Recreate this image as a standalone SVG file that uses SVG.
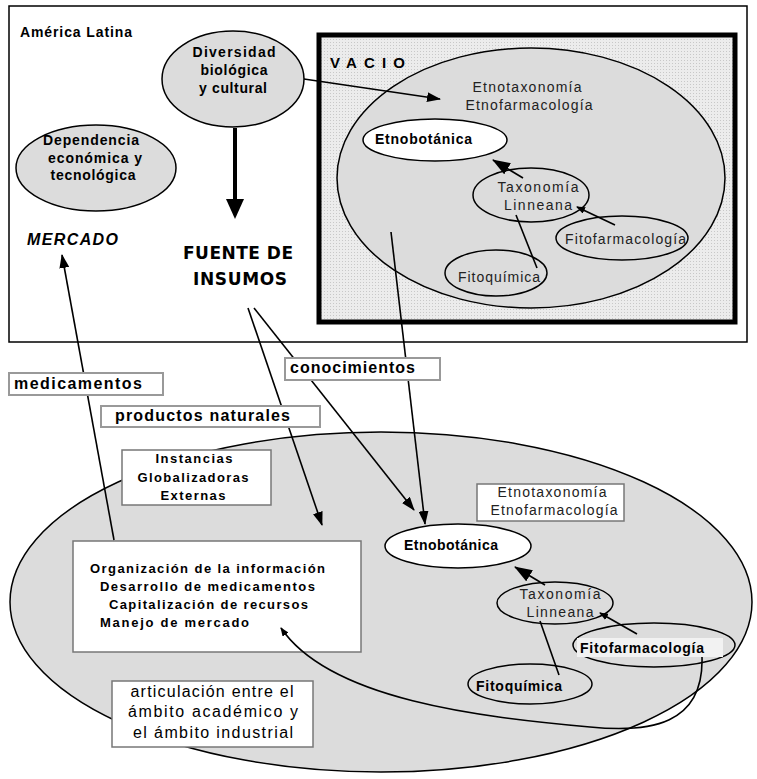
<svg xmlns="http://www.w3.org/2000/svg" width="757" height="779" viewBox="0 0 757 779">
<defs>
<style>
.t{font-family:"Liberation Sans",Arial,sans-serif;fill:#000}
.b{font-weight:bold}
.g{fill:#222}
.ln{stroke:#000;stroke-width:1.6;fill:none}
.lbl{fill:#fff;stroke:#999;stroke-width:2}
.bx{fill:#fff;stroke:#777;stroke-width:1.5}
.el{fill:#dcdcdc;stroke:#000;stroke-width:1.5}
.ew{fill:#fff;stroke:#000;stroke-width:1.5}
.comic{font-family:"DejaVu Sans","Liberation Sans",sans-serif;font-weight:bold}
</style>
<pattern id="dots" width="3" height="3" patternUnits="userSpaceOnUse">
<rect width="3" height="3" fill="#ececec"/>
<rect width="1" height="1" fill="#c8c8c8"/>
</pattern>
<marker id="ah" markerWidth="14" markerHeight="10" refX="13" refY="5" orient="auto" markerUnits="userSpaceOnUse"><path d="M0,0 L14,5 L0,10 z" fill="#000"/></marker>
<marker id="ahb" markerWidth="18" markerHeight="13" refX="17" refY="6.5" orient="auto" markerUnits="userSpaceOnUse"><path d="M0,0 L18,6.5 L0,13 z" fill="#000"/></marker>
<marker id="ahs" markerWidth="9" markerHeight="7" refX="8" refY="3.5" orient="auto" markerUnits="userSpaceOnUse"><path d="M0,0 L9,3.5 L0,7 z" fill="#000"/></marker>
</defs>
<rect width="757" height="779" fill="#fff"/>

<!-- upper frame -->
<g id="america-latina">
<rect x="9" y="6" width="738" height="336" fill="#fff" stroke="#000" stroke-width="1.5"/>
<text class="t b" x="20" y="37" font-size="14" textLength="112">América Latina</text>
</g>

<g id="vacio">
<rect x="319" y="35" width="416" height="287" fill="url(#dots)" stroke="#000" stroke-width="5"/>
<text class="t b" x="330" y="68" font-size="15" textLength="75" lengthAdjust="spacing">VACIO</text>
</g>

<g id="vacio-ellipse">
<ellipse class="el" cx="531" cy="178" rx="194" ry="130"/>
<text class="t g" x="527" y="92" font-size="14" text-anchor="middle" textLength="109">Etnotaxonomía</text>
<text class="t g" x="529" y="110" font-size="14" text-anchor="middle" textLength="127">Etnofarmacología</text>
</g>

<g id="etnobotanica-top">
<ellipse class="ew" cx="435" cy="140" rx="72" ry="21"/>
<text class="t b" x="375" y="144" font-size="14" textLength="97">Etnobotánica</text>
</g>
<g id="taxonomia-top">
<ellipse class="el" cx="531" cy="195" rx="58" ry="27"/>
<text class="t g" x="538" y="192" font-size="14" text-anchor="middle" textLength="81">Taxonomía</text>
<text class="t g" x="538" y="210" font-size="14" text-anchor="middle" textLength="68">Linneana</text>
</g>
<g id="fitofarmacologia-top">
<ellipse class="el" cx="622" cy="238" rx="66" ry="22"/>
<text class="t g" x="565" y="244" font-size="14" textLength="121">Fitofarmacología</text>
</g>
<g id="fitoquimica-top">
<ellipse class="el" cx="496" cy="273" rx="51" ry="23"/>
<text class="t g" x="458" y="282" font-size="14" textLength="82">Fitoquímica</text>
</g>

<g id="diversidad">
<ellipse class="el" cx="233" cy="79" rx="71" ry="48"/>
<text class="t b" x="234" y="57" font-size="14" text-anchor="middle" textLength="83">Diversidad</text>
<text class="t b" x="234" y="75" font-size="14" text-anchor="middle" textLength="67">biológica</text>
<text class="t b" x="233" y="93" font-size="14" text-anchor="middle" textLength="68">y cultural</text>
</g>

<g id="dependencia">
<ellipse class="el" cx="96" cy="168" rx="80" ry="43"/>
<text class="t b" x="91" y="145" font-size="14" text-anchor="middle" textLength="96">Dependencia</text>
<text class="t b" x="95" y="163" font-size="14" text-anchor="middle" textLength="94">económica y</text>
<text class="t b" x="93" y="180" font-size="14" text-anchor="middle" textLength="85">tecnológica</text>
</g>

<g id="mercado">
<text class="t b" x="27" y="245" font-size="16" font-style="italic" textLength="91">MERCADO</text>
</g>

<g id="fuente">
<text class="t comic" x="183" y="259" font-size="17" textLength="110">FUENTE DE</text>
<text class="t comic" x="193" y="285" font-size="17" textLength="94">INSUMOS</text>
</g>

<!-- lower region -->
<g id="ambito-global">
<ellipse class="el" cx="381" cy="602" rx="371" ry="170"/>
</g>

<g id="instancias">
<rect class="bx" x="122" y="450" width="149" height="55"/>
<text class="t b" x="194" y="463" font-size="13" text-anchor="middle" textLength="77">Instancias</text>
<text class="t b" x="193" y="482" font-size="13" text-anchor="middle" textLength="111">Globalizadoras</text>
<text class="t b" x="193" y="500" font-size="13" text-anchor="middle" textLength="65">Externas</text>
</g>

<g id="organizacion">
<rect class="bx" x="73" y="541" width="288" height="111"/>
<text class="t b" x="90" y="573" font-size="13" textLength="235">Organización de la información</text>
<text class="t b" x="100" y="591" font-size="13" textLength="215">Desarrollo de medicamentos</text>
<text class="t b" x="109" y="609" font-size="13" textLength="199">Capitalización de recursos</text>
<text class="t b" x="100" y="627" font-size="13" textLength="149">Manejo de mercado</text>
</g>

<g id="articulacion">
<rect class="bx" x="112" y="681" width="201" height="66"/>
<text class="t" x="212" y="697" font-size="16" text-anchor="middle" textLength="163">articulación entre el</text>
<text class="t" x="213" y="717" font-size="16" text-anchor="middle" textLength="170">ámbito académico y</text>
<text class="t" x="213" y="738" font-size="16" text-anchor="middle" textLength="160">el ámbito industrial</text>
</g>

<g id="etno-label-low">
<rect class="bx" x="477" y="484" width="147" height="37"/>
<text class="t g" x="552" y="497" font-size="14" text-anchor="middle" textLength="109">Etnotaxonomía</text>
<text class="t g" x="554" y="515" font-size="14" text-anchor="middle" textLength="127">Etnofarmacología</text>
</g>

<g id="etnobotanica-low">
<ellipse class="ew" cx="458" cy="546" rx="73" ry="22"/>
<text class="t b" x="404" y="550" font-size="14" textLength="94">Etnobotánica</text>
</g>
<g id="taxonomia-low">
<ellipse class="el" cx="555" cy="603" rx="58" ry="21"/>
<text class="t g" x="560" y="599" font-size="14" text-anchor="middle" textLength="81">Taxonomía</text>
<text class="t g" x="560" y="617" font-size="14" text-anchor="middle" textLength="67">Linneana</text>
</g>
<g id="fitofarmacologia-low">
<ellipse class="el" cx="654" cy="645" rx="81" ry="22"/>
<rect x="577" y="638" width="146" height="19" fill="#f2f2f2"/>
<text class="t b" x="580" y="653" font-size="14" textLength="124">Fitofarmacología</text>
</g>
<g id="fitoquimica-low">
<ellipse class="el" cx="530" cy="684" rx="62" ry="20"/>
<text class="t b" x="476" y="691" font-size="14" textLength="86">Fitoquímica</text>
</g>

<g id="connectors">
<line x1="235" y1="128" x2="235" y2="200" stroke="#000" stroke-width="4"/>
<polygon points="226,199 244,199 235,219" fill="#000"/>
<line class="ln" x1="304" y1="79" x2="440" y2="99" marker-end="url(#ah)"/>
<line class="ln" x1="523" y1="178" x2="493" y2="160" stroke-width="2.5" marker-end="url(#ahb)"/>
<line class="ln" x1="615" y1="225" x2="577" y2="207" marker-end="url(#ahs)"/>
<line class="ln" x1="537" y1="268" x2="516" y2="215"/>
<line class="ln" x1="114" y1="540" x2="62" y2="255" marker-end="url(#ah)"/>
<line class="ln" x1="248" y1="308" x2="322" y2="525" marker-end="url(#ah)"/>
<line class="ln" x1="254" y1="308" x2="414" y2="510" marker-end="url(#ah)"/>
<line class="ln" x1="391" y1="232" x2="425" y2="524" marker-end="url(#ah)"/>
<line class="ln" x1="545" y1="585" x2="515" y2="567" stroke-width="2.5" marker-end="url(#ahb)"/>
<line class="ln" x1="637" y1="634" x2="600" y2="613" marker-end="url(#ahs)"/>
<line class="ln" x1="559" y1="675" x2="540" y2="621"/>
<path class="ln" d="M702,657 C704,725 650,733 590,727 C480,717 330,700 281,628" stroke-width="2" marker-end="url(#ahs)"/>
</g>

<g id="label-medicamentos">
<rect class="lbl" x="9" y="373" width="154" height="22"/>
<text class="t b" x="14" y="389" font-size="16" textLength="128">medicamentos</text>
</g>
<g id="label-productos">
<rect class="lbl" x="101" y="406" width="219" height="21"/>
<text class="t b" x="115" y="421" font-size="16" textLength="175">productos naturales</text>
</g>
<g id="label-conocimientos">
<rect class="lbl" x="285" y="358" width="155" height="22"/>
<text class="t b" x="290" y="373" font-size="16" textLength="125">conocimientos</text>
</g>
</svg>
